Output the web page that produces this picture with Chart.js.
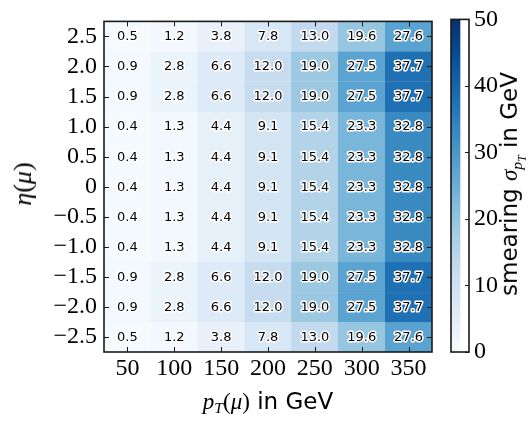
<!DOCTYPE html>
<html>
<head>
<meta charset="utf-8">
<script src="https://cdn.jsdelivr.net/npm/chart.js@4.4.1/dist/chart.umd.min.js"></script>
<style>
  html, body { margin: 0; padding: 0; background: #ffffff; }
  #wrap { position: relative; width: 532px; height: 421px; overflow: hidden; }
  canvas { position: absolute; top: 0; }
  .lbl { position: absolute; white-space: nowrap; color: #000; line-height: 1; }
  .sans { font-family: 'DejaVu Sans', sans-serif; }
  .math { font-family: 'Liberation Serif', serif; font-style: italic; }
  .up { font-family: 'Liberation Serif', serif; font-style: normal; }
  sub { font-size: 0.68em; vertical-align: -0.3em; line-height: 0; }
</style>
</head>
<body>
<div id="wrap">
  <canvas id="main" width="532" height="421" style="left:0"></canvas>
  <canvas id="cbar" width="92" height="421" style="left:440px"></canvas>
  <div class="lbl" id="xt" style="left:268px; top:401px; transform:translate(-50%,-50%); font-size:23px;">
    <span class="math">p<sub>T</sub></span><span class="up">(</span><span class="math">μ</span><span class="up">)</span><span class="sans"> in GeV</span>
  </div>
  <div class="lbl" id="yt" style="left:23px; top:184px; transform:translate(-50%,-50%) rotate(-90deg); font-size:26px;">
    <span class="math">η</span><span class="up">(</span><span class="math">μ</span><span class="up">)</span>
  </div>
  <div class="lbl" id="ct" style="left:510px; top:184px; transform:translate(-50%,-50%) rotate(-90deg); font-size:23px;">
    <span class="sans">smearing </span><span class="math">σ<sub>p<sub style="font-size:0.75em">T</sub></sub></span><span class="sans"> in GeV</span>
  </div>
</div>
<script>
// ---- data ----
const ptLabels = ['50', '100', '150', '200', '250', '300', '350'];
const etaRows = [2.5, 2.0, 1.5, 1.0, 0.5, 0, -0.5, -1.0, -1.5, -2.0, -2.5];
const row25  = [0.5, 1.2, 3.8, 7.8, 13.0, 19.6, 27.6];
const row20  = [0.9, 2.8, 6.6, 12.0, 19.0, 27.5, 37.7];
const row15  = [0.9, 2.8, 6.6, 12.0, 19.0, 27.5, 37.7];
const row10  = [0.4, 1.3, 4.4, 9.1, 15.4, 23.3, 32.8];
const row05  = [0.4, 1.3, 4.4, 9.1, 15.4, 23.3, 32.8];
const row00  = [0.4, 1.3, 4.4, 9.1, 15.4, 23.3, 32.8];
const rowm05 = [0.4, 1.3, 4.4, 9.1, 15.4, 23.3, 32.8];
const rowm10 = [0.4, 1.3, 4.4, 9.1, 15.4, 23.3, 32.8];
const rowm15 = [0.9, 2.8, 6.6, 12.0, 19.0, 27.5, 37.7];
const rowm20 = [0.9, 2.8, 6.6, 12.0, 19.0, 27.5, 37.7];
const rowm25 = [0.5, 1.2, 3.8, 7.8, 13.0, 19.6, 27.6];
const smearing = [row25, row20, row15, row10, row05, row00, rowm05, rowm10, rowm15, rowm20, rowm25];
const etaTicks = [-2.5, -2.0, -1.5, -1.0, -0.5, 0, 0.5, 1.0, 1.5, 2.0, 2.5];
const cbarTicks = [0, 10, 20, 30, 40, 50];
const cbarMin = 0, cbarMax = 50;
const etaHalfBin = 0.25;

// ---- matplotlib "Blues" colormap ----
const bluesStops = [
  [247,251,255],[222,235,247],[198,219,239],[158,202,225],[107,174,214],
  [66,146,198],[33,113,181],[8,81,156],[8,48,107]
];
function blues(t) {
  t = Math.max(0, Math.min(1, t));
  const p = t * (bluesStops.length - 1);
  const i = Math.min(Math.floor(p), bluesStops.length - 2);
  const f = p - i;
  const a = bluesStops[i], b = bluesStops[i + 1];
  const c = a.map((v, k) => Math.round(v + (b[k] - v) * f));
  return `rgb(${c[0]},${c[1]},${c[2]})`;
}
const norm = v => (v - cbarMin) / (cbarMax - cbarMin);

const serif = 'Liberation Serif';
const axisColor = '#1a1a1a';

function fmtEta(v) {
  if (Math.abs(v) < 1e-9) return '0';
  return (v < 0 ? '\u2212' : '') + Math.abs(v).toFixed(1);
}

// inward ticks + frame for main chart
const frameTicks = {
  id: 'frameTicks',
  afterDraw(chart) {
    const { ctx, chartArea: ca, scales } = chart;
    ctx.save();
    ctx.strokeStyle = axisColor;
    ctx.lineWidth = 1;
    const L = 5;
    scales.y.ticks.forEach(t => {
      const y = Math.round(scales.y.getPixelForValue(t.value)) + 0.5;
      ctx.beginPath();
      ctx.moveTo(ca.left, y); ctx.lineTo(ca.left + L, y);
      ctx.moveTo(ca.right, y); ctx.lineTo(ca.right - L, y);
      ctx.stroke();
    });
    scales.x.ticks.forEach((t, i) => {
      const x = Math.round(scales.x.getPixelForTick(i)) + 0.5;
      ctx.beginPath();
      ctx.moveTo(x, ca.bottom); ctx.lineTo(x, ca.bottom - L);
      ctx.moveTo(x, ca.top); ctx.lineTo(x, ca.top + L);
      ctx.stroke();
    });
    ctx.lineWidth = 1.6;
    ctx.strokeRect(ca.left, ca.top, ca.right - ca.left, ca.bottom - ca.top);
    ctx.restore();
  }
};

// value labels inside cells
const cellLabels = {
  id: 'cellLabels',
  afterDatasetsDraw(chart) {
    const { ctx } = chart;
    ctx.save();
    ctx.font = '13px "DejaVu Sans"';
    ctx.textAlign = 'center';
    ctx.textBaseline = 'middle';
    ctx.lineJoin = 'round';
    chart.data.datasets.forEach((ds, di) => {
      const meta = chart.getDatasetMeta(di);
      meta.data.forEach((el, i) => {
        const txt = ds.values[i].toFixed(1);
        const x = el.x, y = (el.y + el.base) / 2 + 0.5;
        ctx.lineWidth = 3;
        ctx.strokeStyle = '#ffffff';
        ctx.strokeText(txt, x, y);
        ctx.fillStyle = '#000000';
        ctx.fillText(txt, x, y);
      });
    });
    ctx.restore();
  }
};

const datasets = etaRows.map((eta, r) => ({
  label: 'eta ' + eta,
  values: smearing[r],
  data: smearing[r].map(() => [eta - etaHalfBin, eta + etaHalfBin]),
  backgroundColor: smearing[r].map(v => blues(norm(v))),
  borderColor: smearing[r].map(v => blues(norm(v))),
  borderWidth: 0.6,
  borderSkipped: false,
  stack: 'cells',
  barPercentage: 1,
  categoryPercentage: 1
}));

new Chart(document.getElementById('main'), {
  type: 'bar',
  data: { labels: ptLabels, datasets },
  options: {
    responsive: false,
    animation: false,
    devicePixelRatio: 1,
    layout: { padding: { top: 15, right: 100, bottom: 0, left: 0 } },
    plugins: { legend: { display: false }, tooltip: { enabled: false } },
    scales: {
      x: {
        type: 'category',
        stacked: true,
        offset: true,
        grid: { display: true, drawOnChartArea: false, drawTicks: false },
        border: { display: false },
        ticks: { color: '#000', font: { family: serif, size: 24 }, padding: 2, maxRotation: 0, autoSkip: false },
        afterFit(s) { s.height = 421 - 352; }
      },
      y: {
        type: 'linear',
        stacked: false,
        min: etaTicks[0] - etaHalfBin,
        max: etaTicks[etaTicks.length - 1] + etaHalfBin,
        afterBuildTicks(s) { s.ticks = etaTicks.map(v => ({ value: v })); },
        grid: { display: true, drawOnChartArea: false, drawTicks: false },
        border: { display: false },
        ticks: { color: '#000', font: { family: serif, size: 24 }, padding: 7, callback: v => fmtEta(v) },
        afterFit(s) { s.width = 104; }
      }
    }
  },
  plugins: [cellLabels, frameTicks]
});

// ---- colorbar ----
const cbarFrame = {
  id: 'cbarFrame',
  afterDraw(chart) {
    const { ctx, chartArea: ca, scales } = chart;
    ctx.save();
    ctx.strokeStyle = axisColor;
    ctx.lineWidth = 1;
    scales.y.ticks.forEach(t => {
      const y = Math.round(scales.y.getPixelForValue(t.value)) + 0.5;
      ctx.beginPath();
      ctx.moveTo(ca.right, y); ctx.lineTo(ca.right - 4, y);
      ctx.stroke();
    });
    ctx.lineWidth = 1.6;
    ctx.strokeRect(ca.left, ca.top, ca.right - ca.left, ca.bottom - ca.top);
    ctx.restore();
  }
};

new Chart(document.getElementById('cbar'), {
  type: 'bar',
  data: {
    labels: [''],
    datasets: [{
      data: [[cbarMin, cbarMax]],
      backgroundColor(c) {
        const ca = c.chart.chartArea;
        if (!ca) return blues(0.5);
        const g = c.chart.ctx.createLinearGradient(0, ca.bottom, 0, ca.top);
        bluesStops.forEach((s, i) => g.addColorStop(i / (bluesStops.length - 1), `rgb(${s[0]},${s[1]},${s[2]})`));
        return g;
      },
      borderWidth: 0,
      barPercentage: 1,
      categoryPercentage: 1
    }]
  },
  options: {
    responsive: false,
    animation: false,
    devicePixelRatio: 1,
    layout: { padding: { top: 15, right: 0, bottom: 421 - 352, left: 11 } },
    plugins: { legend: { display: false }, tooltip: { enabled: false } },
    scales: {
      x: { display: false, offset: false },
      y: {
        position: 'right',
        min: cbarMin,
        max: cbarMax,
        afterBuildTicks(s) { s.ticks = cbarTicks.map(v => ({ value: v })); },
        grid: { display: true, drawOnChartArea: false, drawTicks: false },
        border: { display: false },
        ticks: { color: '#000', font: { family: serif, size: 24 }, padding: 5 },
        afterFit(s) { s.width = 92 - 11 - 18; }
      }
    }
  },
  plugins: [cbarFrame]
});
</script>
</body>
</html>
